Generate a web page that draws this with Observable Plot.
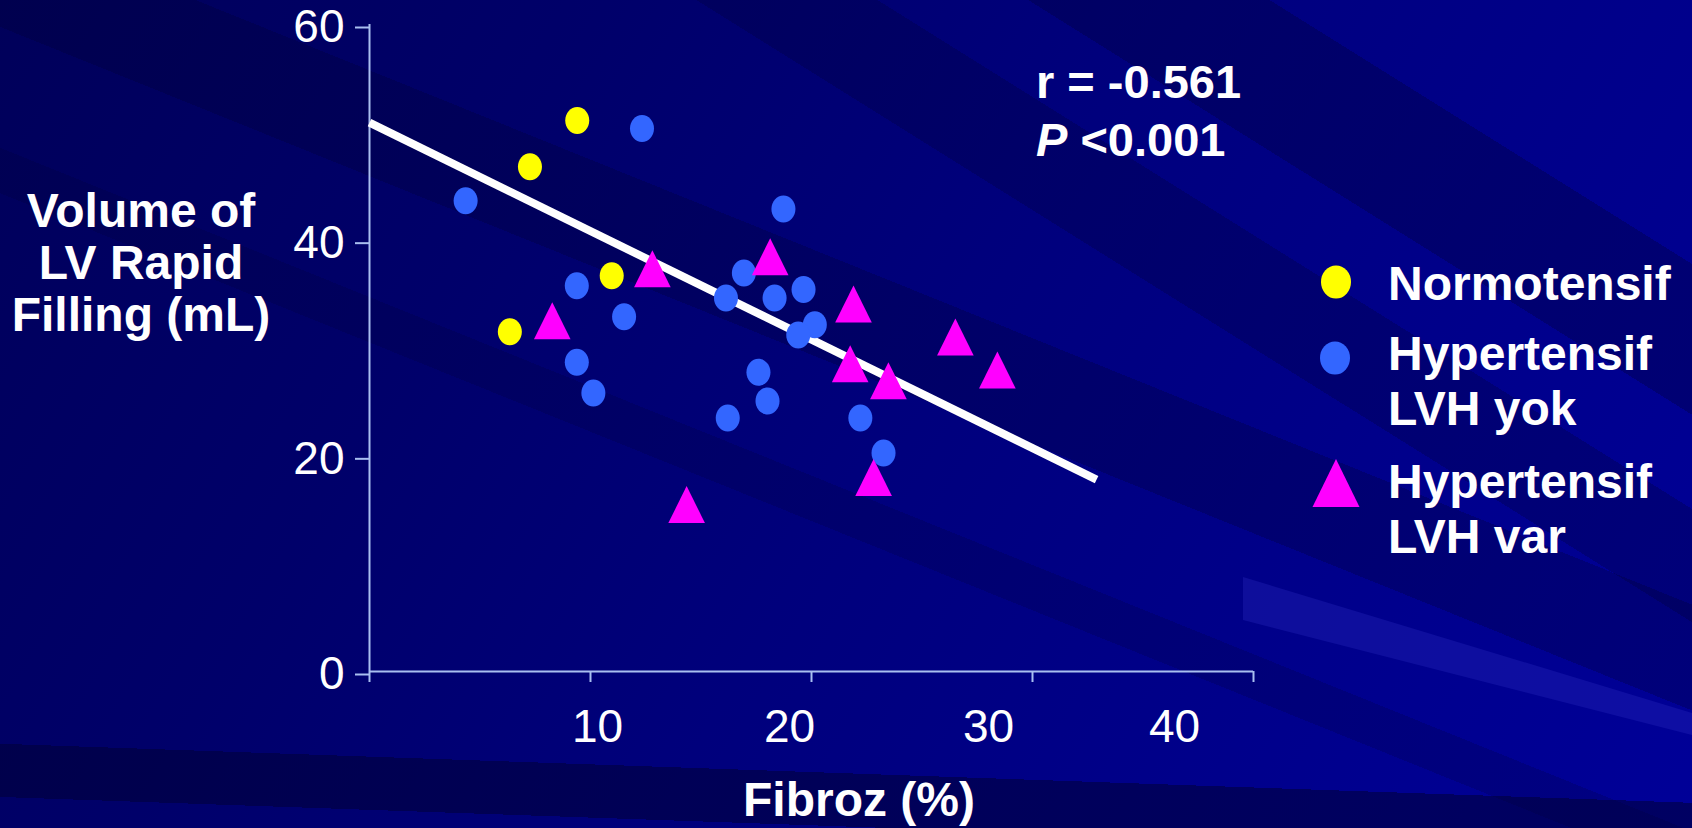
<!DOCTYPE html>
<html>
<head>
<meta charset="utf-8">
<script src="https://cdn.jsdelivr.net/npm/d3@7"></script>
<script src="https://cdn.jsdelivr.net/npm/@observablehq/plot@0.6"></script>
<style>
  html, body { margin: 0; padding: 0; width: 1692px; height: 828px; overflow: hidden; }
  body { font-family: "Liberation Sans", Arial, sans-serif; }
  #page {
    position: relative; width: 1692px; height: 828px; overflow: hidden;
    background:
      linear-gradient(182deg, transparent 0 90.5%, rgba(0,0,55,0.55) 90.5% 96.5%, transparent 96.5%),
      linear-gradient(202deg, transparent 0 40%, rgba(0,0,50,0.28) 40% 47%, transparent 47% 55%, rgba(0,0,50,0.2) 55% 58%, transparent 58%),
      linear-gradient(212deg, transparent 0 14%, rgba(0,0,60,0.35) 14% 22%, transparent 22% 27%, rgba(0,0,60,0.3) 27% 33%, transparent 33%),
      linear-gradient(120deg, #00005a 0%, #00006a 28%, #00007c 52%, #00008a 75%, #000098 100%);
  }
  #band {
    position: absolute; left: 0; top: 0; width: 1692px; height: 828px;
    background: rgba(40,40,190,0.35);
    clip-path: polygon(1243px 577px, 1692px 713px, 1692px 735px, 1243px 620px);
  }
  #chart { position: absolute; left: 0; top: 0; }
  .t { position: absolute; color: #fff; font-weight: bold; white-space: nowrap; }
  #ytitle { left: 0; width: 282px; top: 185px; text-align: center; font-size: 48px; line-height: 52px; }
  #stats { left: 1036px; top: 53px; font-size: 47px; line-height: 58px; }
  #xtitle { left: 659px; width: 400px; text-align: center; top: 773px; font-size: 48px; line-height: 54px; }
  .leg { left: 1388px; font-size: 48px; line-height: 54px; }
  #legsvg { position: absolute; left: 0; top: 0; }
</style>
</head>
<body>
<div id="page">
  <div id="band"></div>
  <div id="chart"></div>
  <div class="t" id="ytitle">Volume of<br>LV Rapid<br>Filling (mL)</div>
  <div class="t" id="stats">r = -0.561<br><i>P</i> &lt;0.001</div>
  <div class="t" id="xtitle">Fibroz (%)</div>
  <div id="legend"></div>
</div>
<script>
// ---- data ----
const groups = ["Normotensif", "Hypertensif LVH yok", "Hypertensif LVH var"];
const legendLines = [["Normotensif"], ["Hypertensif", "LVH yok"], ["Hypertensif", "LVH var"]];

const normoX = [9.40, 7.26, 10.96, 6.35];
const normoY = [51.1, 46.8, 36.7, 31.5];

const lvhYokX = [12.33, 4.35, 18.73, 9.38, 16.94, 16.13, 18.33, 19.64, 11.52, 20.15, 19.40, 9.38, 17.60, 10.13, 16.21, 18.01, 22.21, 23.26];
const lvhYokY = [50.35, 43.65, 42.9, 35.77, 36.95, 34.63, 34.63, 35.43, 32.9, 32.16, 31.2, 28.67, 27.74, 25.83, 23.51, 25.09, 23.51, 20.27];

const lvhVarX = [12.80, 8.27, 18.13, 21.90, 21.75, 23.48, 26.51, 28.41, 22.81, 14.35];
const lvhVarY = [37.35, 32.53, 38.46, 34.08, 28.55, 26.97, 31.02, 27.96, 17.98, 15.48];

const fitX = [0, 32.9];
const fitY = [50.9, 17.8];

const xTicks = [0, 10, 20, 30, 40];
const xLabelTicks = [10, 20, 30, 40];
const yTicks = [0, 20, 40, 60];

const colors = ["#ffff00", "#3366ff", "#ff00ff"];
const axisColor = "#a9bff0";
// the slide's x tick labels sit slightly off their tick marks (pixel offsets, style only)
const xLabelShift = [7, -22, -44, -79];

// ---- helpers ----
const zip = (xs, ys) => xs.map((x, i) => ({x, y: ys[i]}));
const ellipse = {
  draw(ctx, size) {
    const r = Math.sqrt(size / Math.PI), a = r * 0.89, b = r, k = 0.5523;
    ctx.moveTo(a, 0);
    ctx.bezierCurveTo(a, b * k, a * k, b, 0, b);
    ctx.bezierCurveTo(-a * k, b, -a, b * k, -a, 0);
    ctx.bezierCurveTo(-a, -b * k, -a * k, -b, 0, -b);
    ctx.bezierCurveTo(a * k, -b, a, -b * k, a, 0);
    ctx.closePath();
  }
};
const tri = {
  draw(ctx, size) {
    const r = Math.sqrt(size / Math.PI);
    ctx.moveTo(0, -r);
    ctx.lineTo(r * 0.99, r);
    ctx.lineTo(-r * 0.99, r);
    ctx.closePath();
  }
};

const xLabelAxes = xLabelTicks.map((t, i) =>
  Plot.axisX([t], {tickSize: 0, tickPadding: 38, fill: "#fff", fontSize: 46, dx: xLabelShift[i], label: null})
);

const chart = Plot.plot({
  width: 1692,
  height: 828,
  marginLeft: 369,
  marginRight: 439,
  marginTop: 24,
  marginBottom: 157,
  style: {background: "transparent", color: "#fff", fontFamily: "'Liberation Sans', Arial, sans-serif", overflow: "visible"},
  x: {domain: [0, 40]},
  y: {domain: [0, 60]},
  marks: [
    Plot.axisY({ticks: yTicks, tickSize: 14, tickPadding: 11, stroke: axisColor, strokeWidth: 2, fill: "#fff", fontSize: 46, dy: 3, label: null}),
    Plot.axisX({ticks: xTicks, tickFormat: () => "", tickSize: 11, stroke: axisColor, strokeWidth: 2, label: null}),
    ...xLabelAxes,
    Plot.ruleX([0], {stroke: axisColor, strokeWidth: 2}),
    Plot.ruleY([0], {stroke: axisColor, strokeWidth: 2}),
    Plot.line(zip(fitX, fitY), {x: "x", y: "y", stroke: "#fff", strokeWidth: 8, strokeLinecap: "butt"}),
    Plot.dot(zip(normoX, normoY), {x: "x", y: "y", symbol: ellipse, r: 13.5, fill: colors[0], stroke: "none"}),
    Plot.dot(zip(lvhYokX, lvhYokY), {x: "x", y: "y", symbol: ellipse, r: 13.5, fill: colors[1], stroke: "none"}),
    Plot.dot(zip(lvhVarX, lvhVarY), {x: "x", y: "y", symbol: tri, r: 18.5, fill: colors[2], stroke: "none"})
  ]
});
document.getElementById("chart").appendChild(chart);

// ---- legend ----
const legend = document.getElementById("legend");
legend.innerHTML = `
<svg id="legsvg" width="1692" height="828" xmlns="http://www.w3.org/2000/svg">
  <ellipse cx="1336" cy="282" rx="15" ry="16.5" fill="${colors[0]}"/>
  <ellipse cx="1335" cy="358" rx="15" ry="16.5" fill="${colors[1]}"/>
  <polygon points="1336,459 1359.5,507 1312.5,507" fill="${colors[2]}"/>
</svg>`;
const baselines = [[300.7], [370.7, 425.7], [498.3, 553.3]];
legendLines.forEach((lines, gi) => {
  lines.forEach((txt, li) => {
    const d = document.createElement("div");
    d.className = "t leg";
    d.textContent = txt;
    d.style.top = (baselines[gi][li] - 43.6) + "px";
    d.title = groups[gi];
    legend.appendChild(d);
  });
});
</script>
</body>
</html>
